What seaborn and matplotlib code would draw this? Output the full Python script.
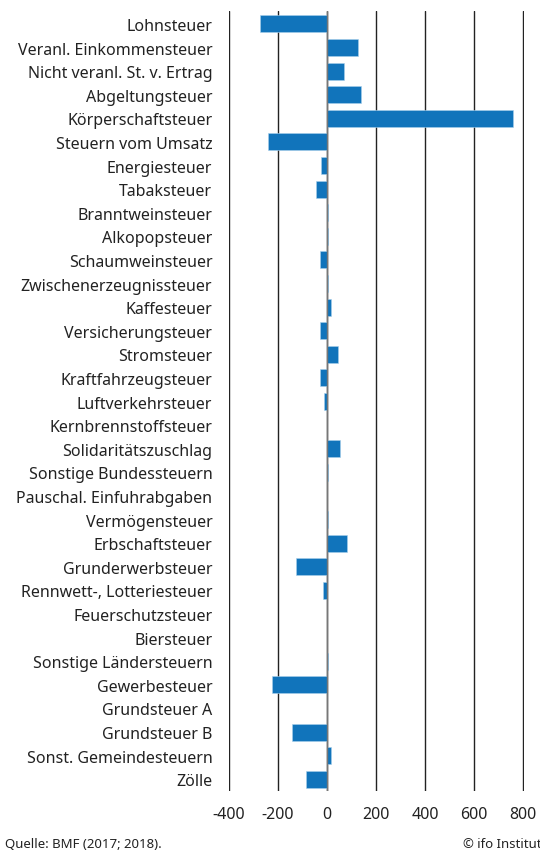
import pandas as pd
import matplotlib.pyplot as plt
import seaborn as sns

steuern = ['Lohnsteuer', 'Veranl. Einkommensteuer', 'Nicht veranl. St. v. Ertrag',
           'Abgeltungsteuer', 'Körperschaftsteuer', 'Steuern vom Umsatz',
           'Energiesteuer', 'Tabaksteuer', 'Branntweinsteuer', 'Alkopopsteuer',
           'Schaumweinsteuer', 'Zwischenerzeugnissteuer', 'Kaffesteuer',
           'Versicherungsteuer', 'Stromsteuer', 'Kraftfahrzeugsteuer',
           'Luftverkehrsteuer', 'Kernbrennstoffsteuer', 'Solidaritätszuschlag',
           'Sonstige Bundessteuern', 'Pauschal. Einfuhrabgaben', 'Vermögensteuer',
           'Erbschaftsteuer', 'Grunderwerbsteuer', 'Rennwett-, Lotteriesteuer',
           'Feuerschutzsteuer', 'Biersteuer', 'Sonstige Ländersteuern',
           'Gewerbesteuer', 'Grundsteuer A', 'Grundsteuer B',
           'Sonst. Gemeindesteuern', 'Zölle']
werte = [-272, 128, 69, 137, 757, -240,
         -24, -47, 4, 3,
         -28, 2, 15,
         -28, 46, -28,
         -12, -1, 54,
         3, -1, 3,
         81, -126, -18,
         -1, 0, 2,
         -226, -1, -144,
         15, -84]
xticks = [-400, -200, 0, 200, 400, 600, 800]

df = pd.DataFrame({'steuer': steuern, 'wert': werte})

sns.set_style('white')
plt.rcParams['font.family'] = ['Noto Sans', 'DejaVu Sans']

fig = plt.figure(figsize=(5.4, 8.53), dpi=100)
ax = fig.add_axes([0.424, 0.0715, 0.547, 0.9145])

sns.barplot(data=df, x='wert', y='steuer', orient='h', color='#1174bb',
            saturation=1, width=0.72, edgecolor='#a9d0ec', linewidth=0.4, ax=ax)

ax.set_xlim(-400, 804)
ax.set_ylim(len(steuern) - 0.5, -0.55)
ax.set_xticks(xticks)
ax.set_xticklabels([str(t) for t in xticks])
ax.grid(axis='x', color='#222222', linewidth=1)
ax.grid(axis='y', visible=False)
ax.set_axisbelow(True)
ax.axvline(0, color='#777777', linewidth=1, zorder=3)
for s in ax.spines.values():
    s.set_visible(False)
ax.tick_params(axis='both', length=0, labelsize=11.5, colors='#222222')
ax.tick_params(axis='x', pad=11)
ax.tick_params(axis='y', pad=12)
ax.set_xlabel('')
ax.set_ylabel('')

fig.text(0.009, 0.006, 'Quelle: BMF (2017; 2018).', fontsize=9.5, color='#222222')
fig.text(0.857, 0.006, '© ifo Institut', fontsize=9.5, color='#222222')

fig.savefig('out.png', dpi=100)
